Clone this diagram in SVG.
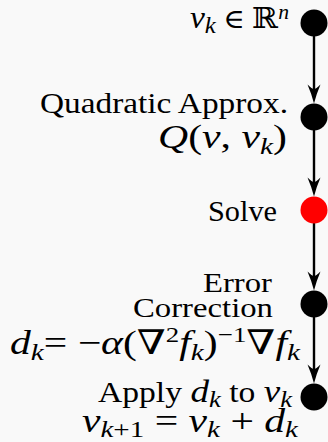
<svg xmlns="http://www.w3.org/2000/svg" width="328" height="442" viewBox="0 0 328 442">
<defs>
<style>
.t{font-family:"Liberation Serif","DejaVu Serif",serif;fill:#000}
.m{font-style:italic}
.line{stroke:#000;stroke-width:2.4;fill:none}
.node{fill:#000}
.red{fill:#ff0000}
</style>
<path id="ah" d="M0 0 Q-2.2 -9 -6.5 -19 Q-1.8 -14.5 0 -14.5 Q1.8 -14.5 6.5 -19 Q2.2 -9 0 0 Z" fill="#000"/>
</defs>
<rect width="328" height="442" fill="#f9f9f9"/>
<g id="connectors">
<line class="line" x1="314" y1="36" x2="314" y2="95"/>
<use href="#ah" x="314" y="103.5"/>
<line class="line" x1="314" y1="130" x2="314" y2="188"/>
<use href="#ah" x="314" y="196.5"/>
<line class="line" x1="314" y1="223" x2="314" y2="282"/>
<use href="#ah" x="314" y="290.5"/>
<line class="line" x1="314" y1="317" x2="314" y2="375"/>
<use href="#ah" x="314" y="383.5"/>
</g>
<g id="n1">
<circle class="node" cx="314" cy="23" r="13.5"/>
<text class="t" y="28" font-size="31" x="190" textLength="99" lengthAdjust="spacingAndGlyphs"><tspan class="m">v</tspan><tspan class="m" font-size="23" dy="5">k</tspan><tspan dy="-5" font-size="27"> ∈ </tspan><tspan font-size="29">ℝ</tspan><tspan class="m" font-size="20" dy="-9">n</tspan></text>
</g>
<g id="n2">
<circle class="node" cx="314" cy="117" r="13.5"/>
<text class="t" x="40" y="113" font-size="29" textLength="248" lengthAdjust="spacingAndGlyphs">Quadratic Approx.</text>
<text class="t" x="158" y="148" font-size="34" textLength="129" lengthAdjust="spacingAndGlyphs"><tspan class="m">Q</tspan>(<tspan class="m">v</tspan>, <tspan class="m">v</tspan><tspan class="m" font-size="24" dy="6">k</tspan><tspan dy="-6">)</tspan></text>
</g>
<g id="n3">
<circle class="red" cx="314" cy="210" r="13.5"/>
<text class="t" x="208" y="221" font-size="29" textLength="69" lengthAdjust="spacingAndGlyphs">Solve</text>
</g>
<g id="n4">
<circle class="node" cx="314" cy="304" r="13.5"/>
<text class="t" x="203" y="292" font-size="28" textLength="69" lengthAdjust="spacingAndGlyphs">Error</text>
<text class="t" x="133" y="317" font-size="28" textLength="140" lengthAdjust="spacingAndGlyphs">Correction</text>
<text class="t" x="10" y="354" font-size="34" textLength="290" lengthAdjust="spacingAndGlyphs"><tspan class="m">d</tspan><tspan class="m" font-size="24" dy="6">k</tspan><tspan dy="-6">= −</tspan><tspan class="m">α</tspan>(∇<tspan font-size="22" dy="-12">2</tspan><tspan class="m" dy="12">f</tspan><tspan class="m" font-size="24" dy="6">k</tspan><tspan dy="-6">)</tspan><tspan font-size="22" dy="-12">−1</tspan><tspan dy="12">∇</tspan><tspan class="m">f</tspan><tspan class="m" font-size="24" dy="6">k</tspan></text>
</g>
<g id="n5">
<circle class="node" cx="314" cy="397" r="13.5"/>
<text class="t" x="98" y="402" font-size="29" textLength="194" lengthAdjust="spacingAndGlyphs">Apply <tspan class="m" font-size="32">d</tspan><tspan class="m" font-size="23" dy="5">k</tspan><tspan dy="-5"> to </tspan><tspan class="m" font-size="32">v</tspan><tspan class="m" font-size="23" dy="5">k</tspan></text>
<text class="t" x="82" y="432" font-size="33" textLength="216" lengthAdjust="spacingAndGlyphs"><tspan class="m">v</tspan><tspan class="m" font-size="23" dy="5">k</tspan><tspan font-size="23">+1</tspan><tspan dy="-5"> = </tspan><tspan class="m">v</tspan><tspan class="m" font-size="23" dy="5">k</tspan><tspan dy="-5"> + </tspan><tspan class="m">d</tspan><tspan class="m" font-size="23" dy="5">k</tspan></text>
</g>
</svg>
